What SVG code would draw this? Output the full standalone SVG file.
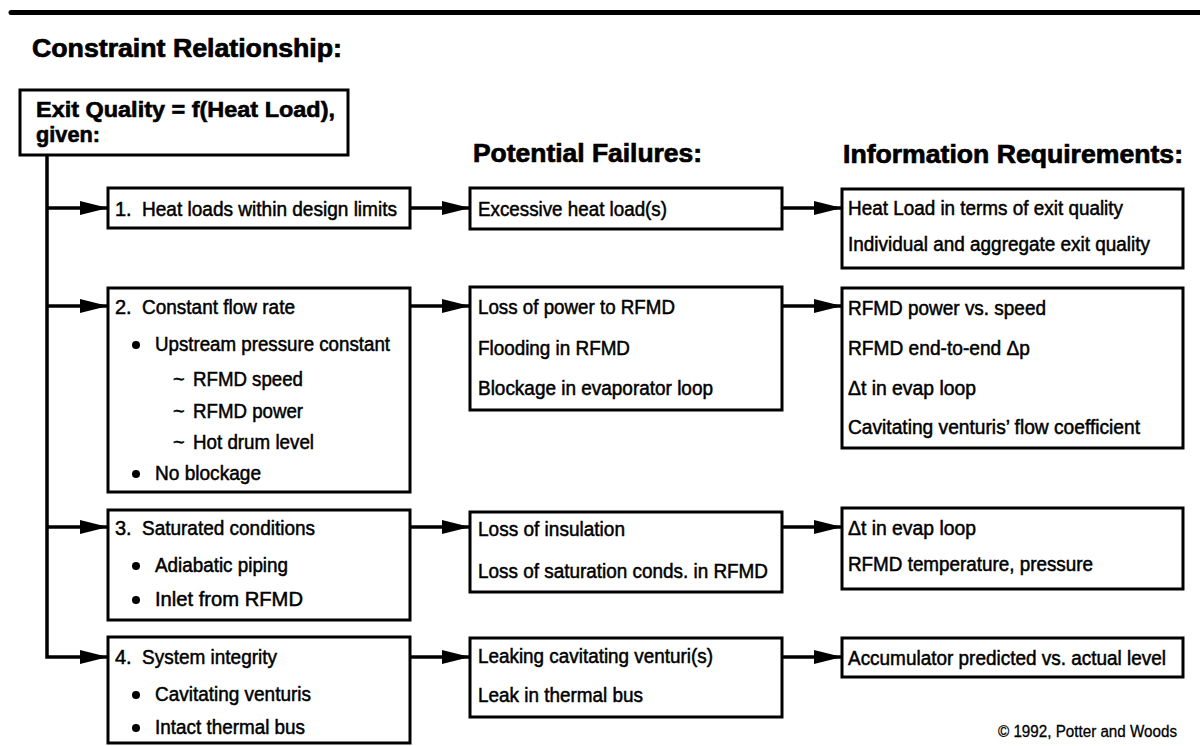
<svg xmlns="http://www.w3.org/2000/svg" width="1200" height="746" viewBox="0 0 1200 746">
<defs>
<style>
.box{fill:#fff;stroke:#000;stroke-width:3}
.t{font-family:"Liberation Sans",Arial,Helvetica,sans-serif;font-size:20px;fill:#000;stroke:#000;stroke-width:0.5}
.h{font-family:"Liberation Sans",Arial,Helvetica,sans-serif;font-size:25px;font-weight:bold;fill:#000;stroke:#000;stroke-width:0.7}
.b{font-family:"Liberation Sans",Arial,Helvetica,sans-serif;font-size:22px;font-weight:bold;fill:#000;stroke:#000;stroke-width:0.6}
.c{font-family:"Liberation Sans",Arial,Helvetica,sans-serif;font-size:16px;fill:#000;stroke:#000;stroke-width:0.3}
.conn{fill:none;stroke:#000;stroke-width:3.5;stroke-linejoin:miter}
</style>
<marker id="ah" markerUnits="userSpaceOnUse" markerWidth="30" markerHeight="16" refX="28" refY="7" orient="auto">
<path d="M0,0 L28,7 L0,14 Z" fill="#000"/>
</marker>
</defs>
<rect width="1200" height="746" fill="#fff"/>
<line x1="11" y1="12.5" x2="1200" y2="12.5" stroke="#000" stroke-width="5" stroke-linecap="round"/>
<text class="h" x="32" y="57" font-size="28" textLength="310" lengthAdjust="spacingAndGlyphs">Constraint Relationship:</text>
<text class="h" x="473" y="162" textLength="229" lengthAdjust="spacingAndGlyphs">Potential Failures:</text>
<text class="h" x="843" y="163" textLength="340" lengthAdjust="spacingAndGlyphs">Information Requirements:</text>

<g id="connectors">
<path class="conn" d="M47,155 L47,657 L108,657" marker-end="url(#ah)"/>
<path class="conn" d="M47,208 H108" marker-end="url(#ah)"/>
<path class="conn" d="M47,306 H108" marker-end="url(#ah)"/>
<path class="conn" d="M47,527 H108" marker-end="url(#ah)"/>
<path class="conn" d="M410,208 H470" marker-end="url(#ah)"/>
<path class="conn" d="M410,306 H470" marker-end="url(#ah)"/>
<path class="conn" d="M410,527 H470" marker-end="url(#ah)"/>
<path class="conn" d="M410,657 H470" marker-end="url(#ah)"/>
<path class="conn" d="M782,208 H842" marker-end="url(#ah)"/>
<path class="conn" d="M782,306 H842" marker-end="url(#ah)"/>
<path class="conn" d="M782,527 H842" marker-end="url(#ah)"/>
<path class="conn" d="M782,657 H842" marker-end="url(#ah)"/>
</g>

<g id="top">
<rect class="box" x="20" y="90" width="328" height="65"/>
<text class="b" x="36" y="117" textLength="299" lengthAdjust="spacingAndGlyphs">Exit Quality = f(Heat Load),</text>
<text class="b" x="36" y="142" textLength="64" lengthAdjust="spacingAndGlyphs">given:</text>
</g>

<g id="c1">
<rect class="box" x="108" y="188" width="302" height="40"/>
<text class="t" x="115" y="216">1.</text>
<text class="t" x="142" y="216" textLength="255" lengthAdjust="spacingAndGlyphs">Heat loads within design limits</text>
</g>

<g id="c2">
<rect class="box" x="108" y="288" width="302" height="204"/>
<text class="t" x="115" y="314">2.</text>
<text class="t" x="142" y="314" textLength="153" lengthAdjust="spacingAndGlyphs">Constant flow rate</text>
<circle cx="136" cy="345" r="4"/>
<text class="t" x="155" y="351" textLength="235" lengthAdjust="spacingAndGlyphs">Upstream pressure constant</text>
<text class="t" x="173" y="386">~</text>
<text class="t" x="193" y="386" textLength="110" lengthAdjust="spacingAndGlyphs">RFMD speed</text>
<text class="t" x="173" y="418">~</text>
<text class="t" x="193" y="418" textLength="110" lengthAdjust="spacingAndGlyphs">RFMD power</text>
<text class="t" x="173" y="449">~</text>
<text class="t" x="193" y="449" textLength="121" lengthAdjust="spacingAndGlyphs">Hot drum level</text>
<circle cx="136" cy="474" r="4"/>
<text class="t" x="155" y="480" textLength="106" lengthAdjust="spacingAndGlyphs">No blockage</text>
</g>

<g id="c3">
<rect class="box" x="108" y="510" width="302" height="110"/>
<text class="t" x="115" y="535">3.</text>
<text class="t" x="142" y="535" textLength="173" lengthAdjust="spacingAndGlyphs">Saturated conditions</text>
<circle cx="136" cy="566" r="4"/>
<text class="t" x="155" y="572" textLength="133" lengthAdjust="spacingAndGlyphs">Adiabatic piping</text>
<circle cx="136" cy="600" r="4"/>
<text class="t" x="155" y="606" textLength="148" lengthAdjust="spacingAndGlyphs">Inlet from RFMD</text>
</g>

<g id="c4">
<rect class="box" x="108" y="637" width="302" height="106"/>
<text class="t" x="115" y="664">4.</text>
<text class="t" x="142" y="664" textLength="135" lengthAdjust="spacingAndGlyphs">System integrity</text>
<circle cx="136" cy="695" r="4"/>
<text class="t" x="155" y="701" textLength="156" lengthAdjust="spacingAndGlyphs">Cavitating venturis</text>
<circle cx="136" cy="728" r="4"/>
<text class="t" x="155" y="734" textLength="150" lengthAdjust="spacingAndGlyphs">Intact thermal bus</text>
</g>

<g id="f1">
<rect class="box" x="470" y="188" width="312" height="41"/>
<text class="t" x="478" y="216" textLength="189" lengthAdjust="spacingAndGlyphs">Excessive heat load(s)</text>
</g>

<g id="f2">
<rect class="box" x="470" y="287" width="312" height="123"/>
<text class="t" x="478" y="314" textLength="197" lengthAdjust="spacingAndGlyphs">Loss of power to RFMD</text>
<text class="t" x="478" y="355" textLength="152" lengthAdjust="spacingAndGlyphs">Flooding in RFMD</text>
<text class="t" x="478" y="395" textLength="235" lengthAdjust="spacingAndGlyphs">Blockage in evaporator loop</text>
</g>

<g id="f3">
<rect class="box" x="470" y="512" width="312" height="80"/>
<text class="t" x="478" y="536" textLength="147" lengthAdjust="spacingAndGlyphs">Loss of insulation</text>
<text class="t" x="478" y="578" textLength="290" lengthAdjust="spacingAndGlyphs">Loss of saturation conds. in RFMD</text>
</g>

<g id="f4">
<rect class="box" x="470" y="638" width="312" height="79"/>
<text class="t" x="478" y="663" textLength="235" lengthAdjust="spacingAndGlyphs">Leaking cavitating venturi(s)</text>
<text class="t" x="478" y="702" textLength="165" lengthAdjust="spacingAndGlyphs">Leak in thermal bus</text>
</g>

<g id="i1">
<rect class="box" x="842" y="189" width="341" height="79"/>
<text class="t" x="848" y="215" textLength="275" lengthAdjust="spacingAndGlyphs">Heat Load in terms of exit quality</text>
<text class="t" x="848" y="251" textLength="302" lengthAdjust="spacingAndGlyphs">Individual and aggregate exit quality</text>
</g>

<g id="i2">
<rect class="box" x="842" y="288" width="341" height="160"/>
<text class="t" x="848" y="315" textLength="198" lengthAdjust="spacingAndGlyphs">RFMD power vs. speed</text>
<text class="t" x="848" y="355" textLength="182" lengthAdjust="spacingAndGlyphs">RFMD end-to-end Δp</text>
<text class="t" x="848" y="395" textLength="128" lengthAdjust="spacingAndGlyphs">Δt in evap loop</text>
<text class="t" x="848" y="434" textLength="292" lengthAdjust="spacingAndGlyphs">Cavitating venturis’ flow coefficient</text>
</g>

<g id="i3">
<rect class="box" x="842" y="508" width="341" height="81"/>
<text class="t" x="848" y="535" textLength="128" lengthAdjust="spacingAndGlyphs">Δt in evap loop</text>
<text class="t" x="848" y="571" textLength="245" lengthAdjust="spacingAndGlyphs">RFMD temperature, pressure</text>
</g>

<g id="i4">
<rect class="box" x="842" y="638" width="341" height="39"/>
<text class="t" x="848" y="665" textLength="318" lengthAdjust="spacingAndGlyphs">Accumulator predicted vs. actual level</text>
</g>

<text class="c" x="998" y="737" textLength="179" lengthAdjust="spacingAndGlyphs">© 1992, Potter and Woods</text>
</svg>
